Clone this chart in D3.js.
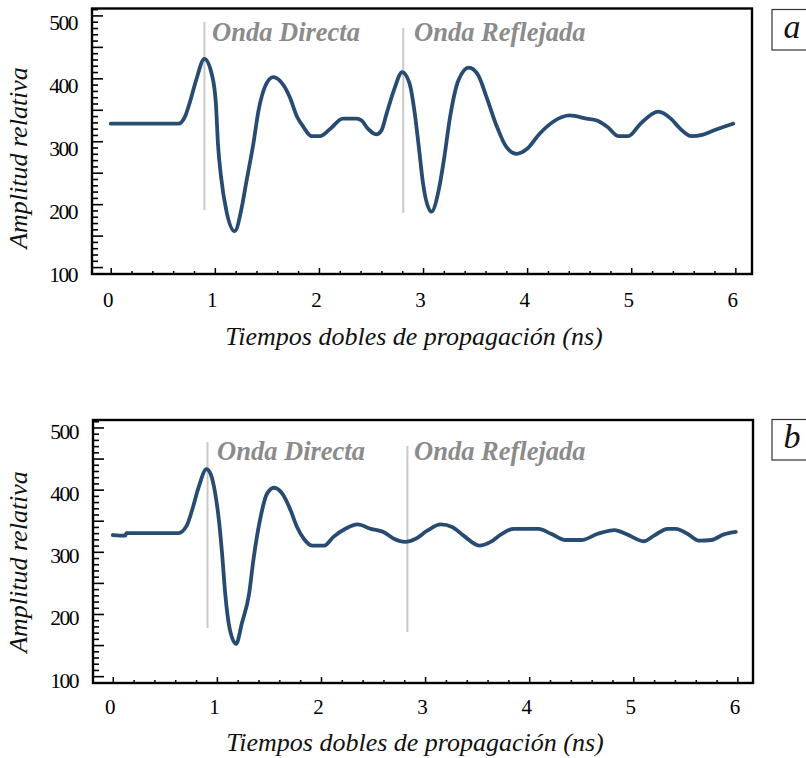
<!DOCTYPE html>
<html>
<head>
<meta charset="utf-8">
<script src="https://cdn.jsdelivr.net/npm/d3@7"></script>
<style>
  html, body { margin: 0; padding: 0; background: #fff; }
  svg { display: block; }
</style>
</head>
<body>
<svg id="chart" width="806" height="758"></svg>
<script>
// ---------------- DATA ----------------
const timeA = [0, 0.65, 0.71, 0.76, 0.82, 0.90, 0.97, 1.01, 1.03, 1.06, 1.11, 1.19, 1.26, 1.30, 1.37, 1.42, 1.48, 1.56,
  1.66, 1.72, 1.79, 1.85, 1.93, 2.01, 2.11, 2.23, 2.36, 2.41, 2.47, 2.55, 2.60, 2.65, 2.72, 2.80, 2.87, 2.92, 2.96,
  3.00, 3.08, 3.15, 3.20, 3.26, 3.34, 3.44, 3.53, 3.61, 3.71, 3.80, 3.90, 4.00, 4.12, 4.25, 4.41, 4.57, 4.67, 4.77,
  4.88, 4.97, 5.09, 5.26, 5.38, 5.47, 5.58, 5.68, 5.79, 5.89, 5.98];
const ampA = [328, 328, 338, 362, 397, 431, 407, 360, 296, 243, 190, 157, 196, 233, 296, 349, 386, 402,
  389, 370, 339, 323, 308, 308, 320, 336, 336, 333, 320, 311, 317, 344, 381, 410, 392, 345, 290,
  233, 188, 222, 270, 339, 397, 417, 405, 370, 323, 291, 280, 288, 312, 331, 341, 336, 333, 323,
  308, 308, 328, 347, 336, 320, 308, 310, 317, 323, 328];

const timeB = [0, 0.12, 0.13, 0.63, 0.71, 0.76, 0.825, 0.90, 0.94, 0.985, 1.02, 1.05, 1.08, 1.12, 1.185, 1.24, 1.31,
  1.35, 1.42, 1.48, 1.55, 1.63, 1.71, 1.77, 1.835, 1.915, 2.03, 2.12, 2.235, 2.35, 2.48, 2.60, 2.70, 2.81, 2.91,
  3.02, 3.15, 3.26, 3.37, 3.52, 3.63, 3.73, 3.85, 4.09, 4.21, 4.35, 4.50, 4.66, 4.82, 4.94, 5.10, 5.20, 5.33,
  5.41, 5.52, 5.63, 5.75, 5.87, 5.985];
const ampB = [327, 326, 330, 330, 342, 366, 404, 433, 425, 393, 350, 297, 233, 179, 152, 185, 233,
  286, 356, 393, 403, 393, 366, 340, 321, 310, 310, 324, 337, 344, 337, 332, 321, 316, 321,
  334, 344, 340, 326, 310, 316, 328, 337, 337, 329, 319, 319, 329, 335, 328, 317, 326, 337,
  337, 329, 318, 319, 328, 332];

const xTickLabels = [0, 1, 2, 3, 4, 5, 6];
const yTickLabels = [100, 200, 300, 400, 500];
const markerTimesA = [0.90, 2.81];
const markerTimesB = [0.91, 2.83];
const markerNames = ["Onda Directa", "Onda Reflejada"];
const panelNames = ["a", "b"];
const xTitle = "Tiempos dobles de propagación (ns)";
const yTitle = "Amplitud relativa";

// ---------------- LAYOUT ----------------
const svg = d3.select("#chart");
const SERIF = "'Liberation Serif', 'Times New Roman', serif";
const LINE = "#284b72";

const panels = [
  { t: timeA, v: ampA, markers: markerTimesA, name: panelNames[0],
    fx0: 92, fx1: 752, fy0: 8.5, fy1: 274, xd: [-0.18, 6.16], yd: [89, 511],
    markTop: [22, 28], markBot: [210, 213], textX: [212, 414], textY: 41, yLabBase: 14.5,
    xLabY: 300, xTitleY: 345, yTitleC: 158, box: [772, 9.5, 50] },
  { t: timeB, v: ampB, markers: markerTimesB, name: panelNames[1],
    fx0: 93, fx1: 753, fy0: 420, fy1: 683, xd: [-0.19, 6.15], yd: [89, 512],
    markTop: [442, 446], markBot: [628, 632], textX: [217, 414], textY: 460, yLabBase: 11,
    xLabY: 707, xTitleY: 751, yTitleC: 562, box: [772, 419.5, 460] }
];

panels.forEach(p => {
  const x = d3.scaleLinear().domain(p.xd).range([p.fx0, p.fx1]);
  const y = d3.scaleLinear().domain(p.yd).range([p.fy1, p.fy0]);
  const g = svg.append("g");

  // marker lines (behind)
  p.markers.forEach((m, i) => {
    g.append("line")
      .attr("x1", x(m)).attr("x2", x(m))
      .attr("y1", p.markTop[i]).attr("y2", p.markBot[i])
      .attr("stroke", "#c9c9c9").attr("stroke-width", 2);
    g.append("text")
      .attr("x", p.textX[i]).attr("y", p.textY)
      .attr("font-family", SERIF).attr("font-style", "italic").attr("font-weight", "bold")
      .attr("font-size", 26.5).attr("fill", "#8b8b8b")
      .text(markerNames[i]);
  });

  // Y ticks (inward)
  const yMinor = d3.range(90, p.yd[1] + 0.01, 10).filter(d => d % 50 !== 0);
  const yMajor = d3.range(100, p.yd[1] + 0.01, 50);
  g.append("g").attr("transform", `translate(${p.fx0},0)`)
    .call(d3.axisRight(y).tickValues(yMinor).tickSize(6).tickFormat(""))
    .call(s => s.select(".domain").remove())
    .call(s => s.selectAll("line").attr("stroke", "#000").attr("stroke-width", 1.6));
  g.append("g").attr("transform", `translate(${p.fx0},0)`)
    .call(d3.axisRight(y).tickValues(yMajor).tickSize(11).tickFormat(""))
    .call(s => s.select(".domain").remove())
    .call(s => s.selectAll("line").attr("stroke", "#000").attr("stroke-width", 1.6));
  // Y labels
  g.append("g").attr("transform", `translate(${p.fx0},0)`)
    .call(d3.axisLeft(y).tickValues(yTickLabels).tickSize(0).tickPadding(15).tickFormat(d3.format("d")))
    .call(s => s.select(".domain").remove())
    .call(s => s.selectAll("text")
      .attr("font-family", SERIF).attr("font-size", 21.5).attr("letter-spacing", -1.5)
      .attr("fill", "#000").attr("dy", 0).attr("y", p.yLabBase));

  // X ticks (inward)
  const xMinor = d3.range(0, 6.01, 0.2).filter(d => Math.abs(d - Math.round(d)) > 0.01);
  g.append("g").attr("transform", `translate(0,${p.fy1})`)
    .call(d3.axisTop(x).tickValues(xMinor).tickSize(3).tickFormat(""))
    .call(s => s.select(".domain").remove())
    .call(s => s.selectAll("line").attr("stroke", "#000").attr("stroke-width", 1.5));
  g.append("g").attr("transform", `translate(0,${p.fy1})`)
    .call(d3.axisTop(x).tickValues(xTickLabels).tickSize(6).tickFormat(""))
    .call(s => s.select(".domain").remove())
    .call(s => s.selectAll("line").attr("stroke", "#000").attr("stroke-width", 1.5));
  // X labels
  g.append("g").attr("transform", `translate(-3,${p.fy1})`)
    .call(d3.axisBottom(x).tickValues(xTickLabels).tickSize(0).tickPadding(0).tickFormat(d3.format("d")))
    .call(s => s.select(".domain").remove())
    .call(s => s.selectAll("text")
      .attr("font-family", SERIF).attr("font-size", 21).attr("fill", "#000")
      .attr("y", p.xLabY - p.fy1).attr("dy", "0.35em"));

  // data line
  const line = d3.line()
    .x((d, i) => x(p.t[i]))
    .y((d, i) => y(p.v[i]))
    .curve(d3.curveMonotoneX);
  g.append("path")
    .attr("d", line(p.v))
    .attr("fill", "none").attr("stroke", LINE)
    .attr("stroke-width", 3.8).attr("stroke-linejoin", "round").attr("stroke-linecap", "round");

  // frame
  g.append("rect")
    .attr("x", p.fx0).attr("y", p.fy0)
    .attr("width", p.fx1 - p.fx0).attr("height", p.fy1 - p.fy0)
    .attr("fill", "none").attr("stroke", "#000").attr("stroke-width", 2.4);

  // titles
  g.append("text")
    .attr("x", (p.fx0 + p.fx1) / 2 - 8).attr("y", p.xTitleY)
    .attr("text-anchor", "middle")
    .attr("font-family", SERIF).attr("font-style", "italic").attr("font-size", 26)
    .attr("fill", "#111").text(xTitle);
  g.append("text")
    .attr("transform", `translate(27,${p.yTitleC}) rotate(-90)`)
    .attr("text-anchor", "middle")
    .attr("font-family", SERIF).attr("font-style", "italic").attr("font-size", 26)
    .attr("fill", "#111").text(yTitle);

  // panel label box
  g.append("rect")
    .attr("x", p.box[0]).attr("y", p.box[1])
    .attr("width", 60).attr("height", p.box[2] - p.box[1])
    .attr("fill", "#fff").attr("stroke", "#333").attr("stroke-width", 1.2);
  g.append("text")
    .attr("x", 792).attr("y", p.box[2] - 12)
    .attr("text-anchor", "middle")
    .attr("font-family", SERIF).attr("font-style", "italic").attr("font-size", 34)
    .attr("fill", "#111").text(p.name);
});
</script>
</body>
</html>
